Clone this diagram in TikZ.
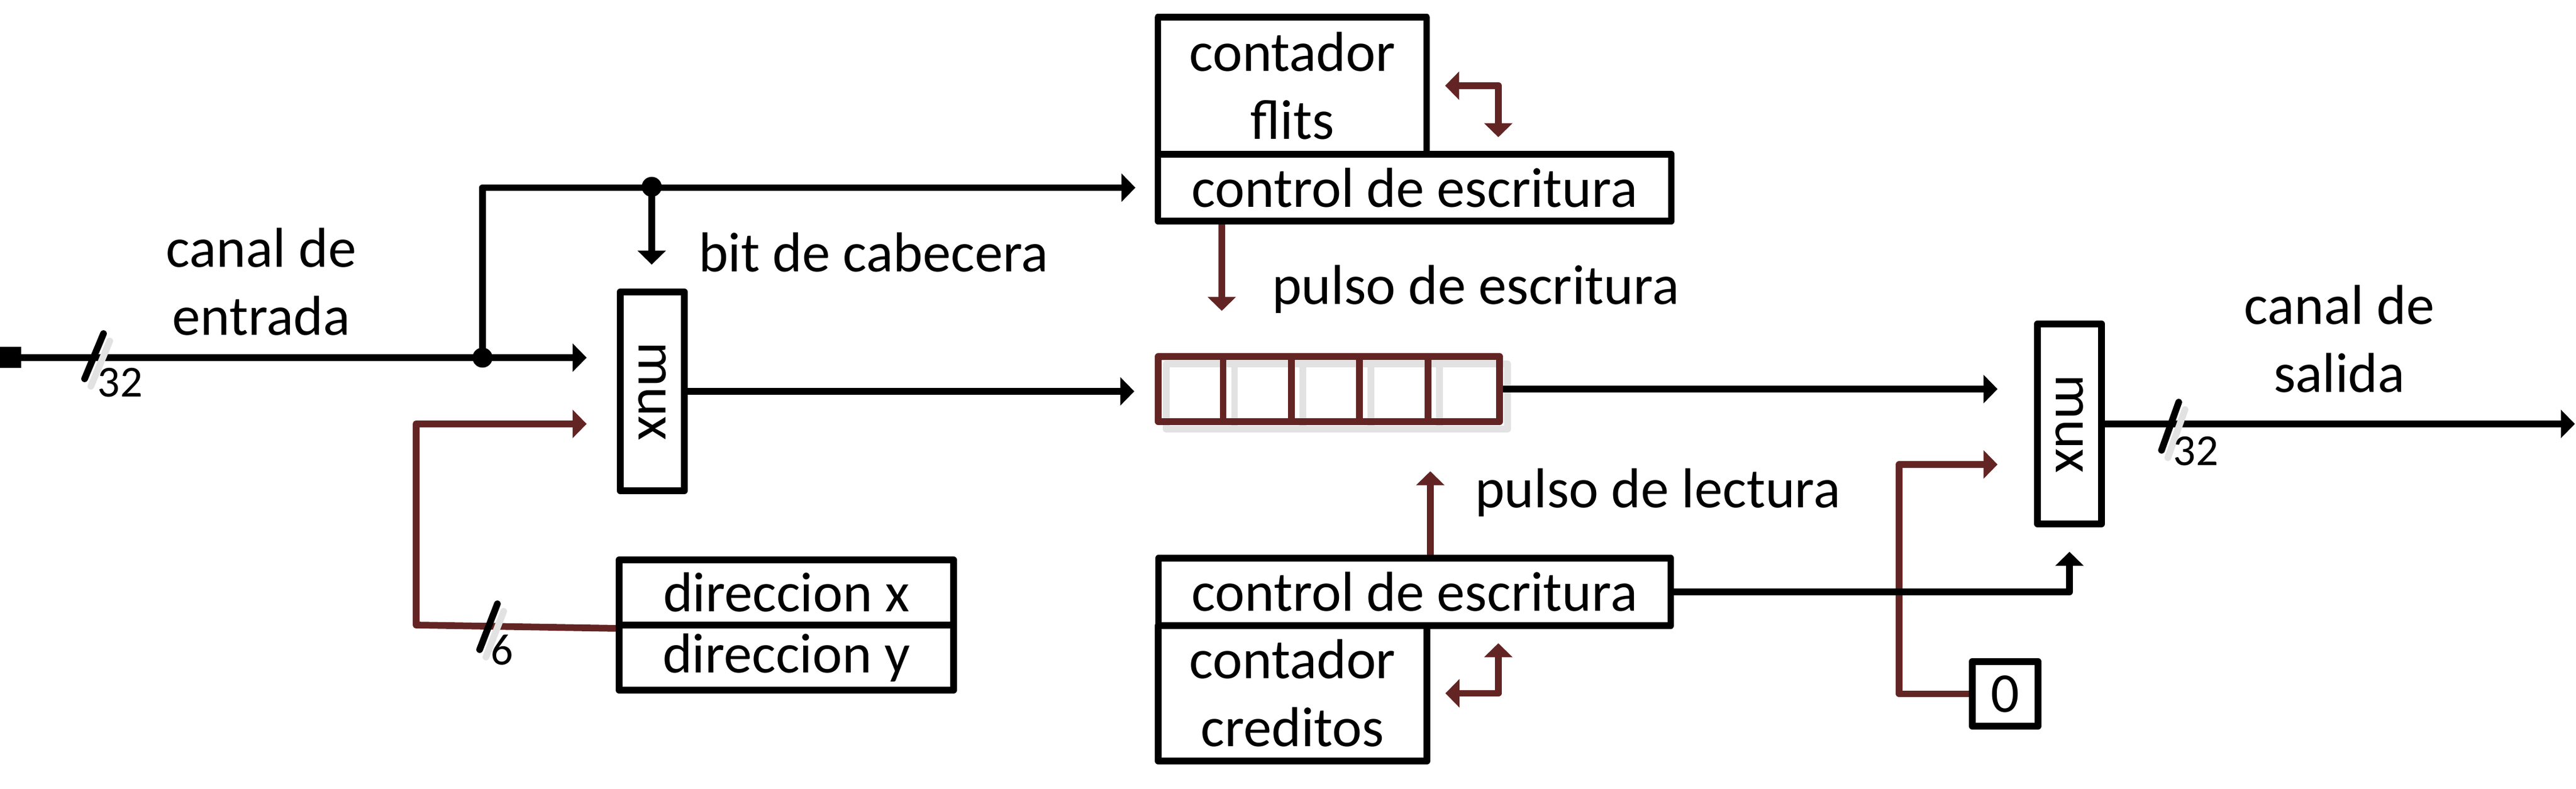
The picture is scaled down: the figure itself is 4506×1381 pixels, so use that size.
\documentclass[tikz,border=0pt]{standalone}
\usepackage{fontspec}
\setmainfont{Carlito}
\usepackage{graphicx}
\usetikzlibrary{arrows.meta,calc}
\definecolor{brn}{RGB}{99,37,35}
\definecolor{shd}{RGB}{226,226,226}
\newcommand\mytxt{\fontsize{19.7}{23.8}\selectfont}
\newcommand\mysmall{\fontsize{15.5}{18}\selectfont}
\begin{document}
\begin{tikzpicture}[x=0.2pt,y=-0.2pt,
  lw/.style={line width=2.35pt},
  box/.style={draw,lw,line join=round,rectangle,inner sep=0pt,anchor=center,align=center,font=\mytxt},
  tip/.style={-{Triangle[length=4.9pt,width=9.7pt]}},
  wire/.style={lw,line join=round,tip},
  bwire/.style={lw,line join=round,draw=brn,tip},
  bbi/.style={lw,line join=round,draw=brn,{Triangle[length=4.9pt,width=9.7pt]}-{Triangle[length=4.9pt,width=9.7pt]}},
  dot/.style={circle,fill,inner sep=0pt,minimum size=7pt},
  lbl/.style={font=\mytxt,inner sep=0pt},
  num/.style={font=\mysmall,inner sep=0pt,anchor=base},
  slash/.style={lw,line cap=round}]
\useasboundingbox (0,0) rectangle (4506,1381);

% boxes
\node[fill,inner sep=0pt,minimum size=7.4pt] (inp) at (18.5,626) {};
\node[box,minimum width=22.4pt,minimum height=69.6pt] (mux1) at (1141,685) {\rotatebox{-90}{mux}};
\node[box,minimum width=117pt,minimum height=22.8pt] (dirx) at (1375.5,1037) {direccion x};
\node[box,minimum width=117pt,minimum height=22.8pt] (diry) at (1375.5,1151) {direccion y};
\node[box,minimum width=94pt,minimum height=47.9pt] (flits) at (2260.5,150) {contador\\flits};
\node[box,minimum width=179.6pt,minimum height=23.4pt] (fctl) at (2474.5,328.5) {control de escritura};
% fifo shadow
\draw[lw,shd,line join=round] (2040,637) rectangle (2637,751);
\foreach \k in {1,...,4} \draw[lw,shd] (2040+\k*119.4,637) -- (2040+\k*119.4,751);
\node[box,draw=brn,minimum width=119.4pt,minimum height=22.8pt] (fifo) at (2324.5,681) {};
\foreach \k in {1,...,4} \draw[lw,brn] ($(fifo.north west)+(\k*119.4,0)$) -- ($(fifo.south west)+(\k*119.4,0)$);
\node[box,minimum width=22.4pt,minimum height=70pt] (mux2) at (3620,742) {\rotatebox{-90}{mux}};
\node[box,minimum width=179.2pt,minimum height=23.6pt] (ctl2) at (2474.5,1036) {control de escritura};
\node[box,minimum width=94pt,minimum height=47.4pt] (cred) at (2261,1213.5) {contador\\creditos};
\node[box,minimum width=23pt,minimum height=22.6pt] (zero) at (3507.5,1214.5) {0};
\coordinate (outend) at (4504,742);

% labels
\node[lbl,align=center] (lin) at (457,493) {canal de\\entrada};
\node[lbl,anchor=base west] (lbit) at (1221,476) {bit de cabecera};
\node[lbl,anchor=base west] (lpe) at (2224,533) {pulso de escritura};
\node[lbl,anchor=base west] (lpl) at (2579,889) {pulso de lectura};
\node[lbl,align=center] (lout) at (4092,593.5) {canal de\\salida};

% brown connectors (under black)
\draw[bwire,shorten >=10.6pt] (dirx.south west) -- (728,1094) |- ($(mux1.west)+(0,57)$);
\draw[bwire,shorten >=14.8pt] ($(fctl.south west)+(117.5,0)$) -- ($(fifo.north west)+(117,0)$);
\draw[bwire,shorten >=16.2pt] (ctl2.north -| cred.east) -- (fifo.south -| cred.east);
\draw[bwire,shorten >=12.8pt] (zero.west) -- (3322,1214.5) |- ($(mux2.west)+(0,71)$);
\draw[bbi,shorten <=5.3pt,shorten >=4.8pt] (flits.east) -| ($(fctl.north east)+(-308.5,0)$);
\draw[bbi,shorten <=5pt,shorten >=5.3pt] ($(ctl2.south east)+(-307.5,0)$) |- (cred.east);

% black connectors
\draw[wire,shorten >=10.6pt] (inp.center) -- (inp.center -| mux1.west);
\node[dot] (j1) at (844,626) {};
\node[dot] (j2) at (1140,327) {};
\draw[wire,shorten >=6.7pt] (j1.center) |- (fctl.west);
\draw[wire,shorten >=8.4pt] (j2.center) -- (j2.center |- mux1.north);
\draw[wire,shorten >=7.2pt] (mux1.east) -- (mux1.east -| fifo.west);
\draw[wire,shorten >=12.8pt] (fifo.east) -- (fifo.east -| mux2.west);
\draw[wire] (mux2.east) -- (outend);
\draw[wire,shorten >=8.6pt] (ctl2.east) -| (mux2.south);

% bus slashes with shadows
\draw[slash,shd] (159,676) -- (192,597);
\draw[slash] (148,663) -- (181,584);
\node[num] (w1) at (210,695) {32};

\draw[slash,shd] (850,1150) -- (881,1070);
\draw[slash] (839,1137) -- (870,1057);
\node[num] (w2) at (878,1164) {6};

\draw[slash,shd] (3792,801) -- (3822,717);
\draw[slash] (3781,788) -- (3811,704);
\node[num] (w3) at (3841,815) {32};
\end{tikzpicture}
\end{document}
